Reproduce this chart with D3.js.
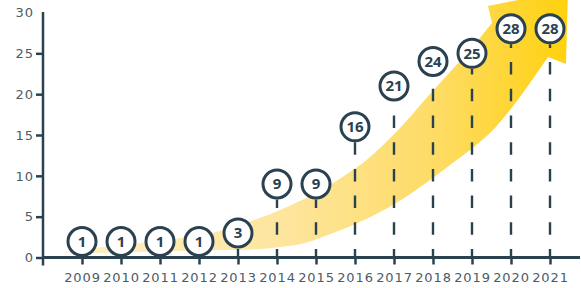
<!DOCTYPE html>
<html><head><meta charset="utf-8">
<script src="https://cdn.jsdelivr.net/npm/d3@7"></script>
<style>html,body{margin:0;padding:0;background:#fff;}svg{display:block;}</style>
</head><body>
<svg id="chart" width="581" height="288"></svg>
<script>
const years = [2009, 2010, 2011, 2012, 2013, 2014, 2015, 2016, 2017, 2018, 2019, 2020, 2021];
const values = [1, 1, 1, 1, 3, 9, 9, 16, 21, 24, 25, 28, 28];
const yTicks = [0, 5, 10, 15, 20, 25, 30];

// decorative growth arrow, in data units [year, value]
const arrowUpper = [[2008.436,0.612],[2009.538,1.286],[2010.487,1.776],[2011.513,2.388],[2012.538,3.245],
  [2013.487,4.714],[2014.077,5.816],[2014.846,7.531],[2015.436,9.122],[2015.949,10.714],[2016.385,12.306],
  [2017.154,15.857],[2017.923,20.020],[2018.436,22.714],[2018.949,25.408],[2019.513,28.714]];
const arrowHead = [[2019.41,30.8],[2021.46,32.75],[2021.41,23.69]];
const arrowLower = [[2020.949,24.551],[2020.487,21.367],[2019.974,18.061],[2019.462,15.245],[2018.949,13.163],
  [2018.436,11.327],[2017.923,9.490],[2016.974,6.429],[2015.949,3.980],[2015.436,3.000],[2014.718,1.776],
  [2014.077,1.286],[2013.385,0.980],[2012.538,0.918],[2011.513,0.796],[2010.487,0.673],[2009.538,0.551],[2008.436,0.612]];

const ink = "#2a4150";
const labelInk = "#4a5c68";
const svg = d3.select("#chart");
const x = d3.scaleLinear().domain([2008, 2021]).range([43, 550]);
const y = d3.scaleLinear().domain([0, 30]).range([257.5, 12.5]);

// gradient
const defs = svg.append("defs");
const grad = defs.append("linearGradient").attr("id", "ag")
  .attr("gradientUnits", "userSpaceOnUse").attr("x1", x(2008.4)).attr("x2", x(2021.5)).attr("y1", 0).attr("y2", 0);
[[0, "#fdf0c8"], [0.45, "#fde59c"], [0.75, "#fedb62"], [1, "#ffd10c"]].forEach(([o, c]) =>
  grad.append("stop").attr("offset", o).attr("stop-color", c));

// arrow
const curve = d3.line().x(d => x(d[0])).y(d => y(d[1])).curve(d3.curveCatmullRom.alpha(0.5));
const up = curve(arrowUpper);
const lo = curve(arrowLower).replace(/^M/, "L");
const head = arrowHead.map(d => "L" + x(d[0]) + "," + y(d[1])).join("");
svg.append("path").attr("d", up + head + lo + "Z").attr("fill", "url(#ag)");

// axes
const yAxis = svg.append("g").attr("transform", `translate(${x(2008)},0)`)
  .call(d3.axisLeft(y).tickValues(yTicks).tickSize(7).tickPadding(2));
yAxis.select(".domain").remove();
yAxis.selectAll(".tick line").attr("stroke", ink).attr("stroke-width", 2.5)
  .filter(d => d === 30).remove();
yAxis.selectAll(".tick text").attr("fill", labelInk).style("font-family", "DejaVu Sans")
  .style("font-size", "13px").style("letter-spacing", "1px");

const xAxis = svg.append("g").attr("transform", `translate(0,${y(0)})`)
  .call(d3.axisBottom(x).tickValues(years).tickFormat(d3.format("d")).tickSize(7).tickPadding(8));
xAxis.select(".domain").remove();
xAxis.selectAll(".tick line").attr("stroke", ink).attr("stroke-width", 2.5);
xAxis.selectAll(".tick text").attr("fill", labelInk).style("font-family", "DejaVu Sans")
  .style("font-size", "13px").style("letter-spacing", "0.9px");

svg.append("line").attr("x1", x(2008)).attr("x2", x(2008)).attr("y1", y(30) - 0.5).attr("y2", y(0) + 8)
  .attr("stroke", ink).attr("stroke-width", 2.5);
svg.append("line").attr("x1", x(2008) - 1).attr("x2", 580).attr("y1", y(0)).attr("y2", y(0))
  .attr("stroke", ink).attr("stroke-width", 2.8);

// markers
const R = 14;
const cyOf = v => Math.min(y(v), y(0) - R - 2);
const pts = years.map((yr, i) => ({ yr, v: values[i] }));
svg.append("g").selectAll("line").data(pts.filter(d => cyOf(d.v) + R + 1.5 < y(0))).join("line")
  .attr("x1", d => x(d.yr)).attr("x2", d => x(d.yr))
  .attr("y1", y(0)).attr("y2", d => cyOf(d.v) + R + 1.5)
  .attr("stroke", ink).attr("stroke-width", 2.4)
  .attr("stroke-dasharray", "12.5 14.2").attr("stroke-dashoffset", 4);

const m = svg.append("g").selectAll("g").data(pts).join("g")
  .attr("transform", d => `translate(${x(d.yr)},${cyOf(d.v)})`);
m.append("circle").attr("r", R).attr("fill", "#fff").attr("stroke", ink).attr("stroke-width", 3);
m.append("text").text(d => d.v).attr("text-anchor", "middle").attr("dy", "0.36em")
  .attr("fill", ink).style("font-family", "Open Sans").style("font-weight", 700).style("font-size", "15px");
</script>
</body></html>
